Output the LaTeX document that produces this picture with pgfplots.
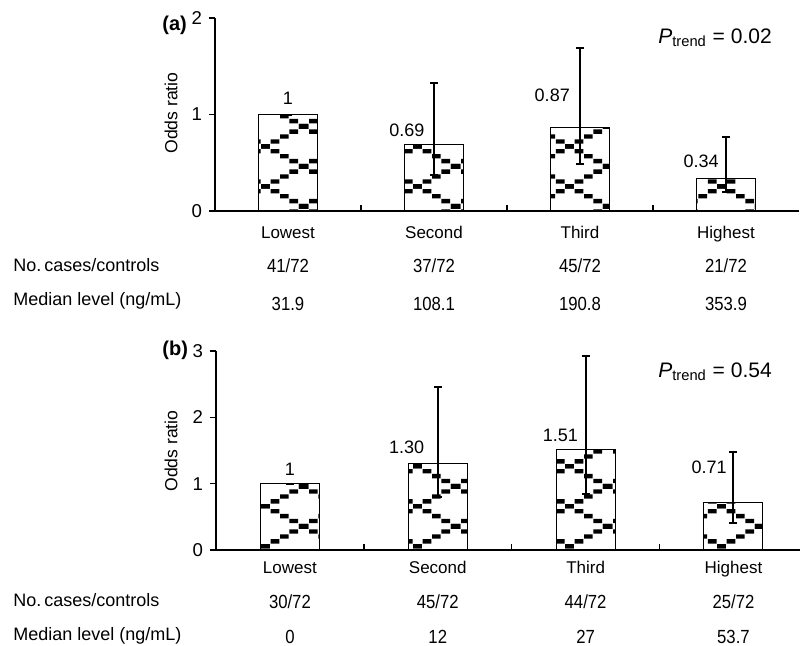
\documentclass[border=0pt]{standalone}
\usepackage{fontspec}
\setmainfont{Liberation Sans}
\newfontfamily\numfont[FakeStretch=0.88]{Liberation Sans}
\usepackage{pgfplots}
\pgfplotsset{compat=1.18}
\usetikzlibrary{patterns}

\pgfdeclarepatternformonly{diamonddash}{\pgfqpoint{0pt}{0pt}}{\pgfqpoint{38pt}{20pt}}{\pgfqpoint{38pt}{20pt}}{%
  \foreach \k in {0,...,7}{%
    \foreach \dx in {-38,0,38}{%
      \foreach \dy in {-20,0,20}{%
        \pgfpathrectangle{\pgfpoint{\k*4.75pt+\dx*1pt-2.2pt}{\k*2.5pt+\dy*1pt-1.1pt}}{\pgfpoint{4.4pt}{2.2pt}}%
        \pgfusepath{fill}%
        \pgfpathrectangle{\pgfpoint{\k*4.75pt+\dx*1pt-2.2pt}{20pt-\k*2.5pt+\dy*1pt-1.1pt}}{\pgfpoint{4.4pt}{2.2pt}}%
        \pgfusepath{fill}%
      }}}%
}

\pgfplotsset{
  myaxis/.style={
    scale only axis, width=292pt, xmin=-0.5, xmax=3.5, ymin=0,
    axis x line=bottom, axis y line=left,
    axis line style={-, line width=0.7pt, black},
    every outer x axis line/.append style={-},
    every outer y axis line/.append style={-},
    xtick=\empty, tick align=outside, major tick length=3pt,
    tick style={line width=0.7pt, black},
    ticklabel style={font=\fontsize{9.3}{10}\selectfont},
    /pgf/number format/assume math mode=true,
    clip=false,
  },
  mybar/.style={ybar, bar width=29.5pt, draw=black, line width=0.5pt,
    pattern=diamonddash, pattern color=black},
  myerr/.style={mark=none, draw=none, line width=1pt,
    error bars/.cd, y dir=both, y explicit,
    error bar style={draw=black, line width=1pt},
    error mark options={rotate=90, draw=black, line width=1pt, mark size=2pt}},
}
\tikzset{
  catlab/.style={anchor=base, font=\fontsize{8.5}{10}\selectfont},
  numlab/.style={anchor=base, font=\numfont\fontsize{9.5}{10}\selectfont},
  vallab/.style={anchor=center, font=\fontsize{9}{10}\selectfont},
}

\begin{document}
\begin{tikzpicture}
% ---------------- panel (a) ----------------
\begin{axis}[myaxis, at={(107.5pt,217pt)}, anchor=south west, height=96.5pt,
  ymax=2, ytick={0,1,2}]
\addplot[mybar] coordinates {(0,1) (1,0.69) (2,0.87) (3,0.34)};
\addplot[myerr] coordinates {
  (0,1) += (0,0) -= (0,0)
  (1,0.69) += (0,0.64) -= (0,0.32)
  (2,0.87) += (0,0.82) -= (0,0.38)
  (3,0.34) += (0,0.43) -= (0,0.14)
};
\addplot[ycomb, black, line width=0.7pt, mark=none] coordinates {(0.5,0.062) (1.5,0.062) (2.5,0.062)};
\node[vallab] at (axis cs:0,1.17) {1};
\node[vallab] at (axis cs:0.815,0.84) {0.69};
\node[vallab] at (axis cs:1.81,1.20) {0.87};
\node[vallab] at (axis cs:2.83,0.52) {0.34};
\node[catlab, yshift=-13.5pt] at (axis cs:0,0) {Lowest};
\node[catlab, yshift=-13.5pt] at (axis cs:1,0) {Second};
\node[catlab, yshift=-13.5pt] at (axis cs:2,0) {Third};
\node[catlab, yshift=-13.5pt] at (axis cs:3,0) {Highest};
\node[numlab, yshift=-30.5pt] at (axis cs:0,0) {41/72};
\node[numlab, yshift=-30.5pt] at (axis cs:1,0) {37/72};
\node[numlab, yshift=-30.5pt] at (axis cs:2,0) {45/72};
\node[numlab, yshift=-30.5pt] at (axis cs:3,0) {21/72};
\node[numlab, yshift=-49.5pt] at (axis cs:0,0) {31.9};
\node[numlab, yshift=-49.5pt] at (axis cs:1,0) {108.1};
\node[numlab, yshift=-49.5pt] at (axis cs:2,0) {190.8};
\node[numlab, yshift=-49.5pt] at (axis cs:3,0) {353.9};
\end{axis}
% ---------------- panel (b) ----------------
\begin{axis}[myaxis, at={(108pt,47.5pt)}, anchor=south west, height=99.5pt,
  xmax=3.45, ymax=3, ytick={0,1,2,3}]
\addplot[mybar] coordinates {(0,1) (1,1.30) (2,1.51) (3,0.71)};
\addplot[myerr] coordinates {
  (0,1) += (0,0) -= (0,0)
  (1,1.30) += (0,1.16) -= (0,0.50)
  (2,1.51) += (0,1.42) -= (0,0.66)
  (3,0.71) += (0,0.77) -= (0,0.31)
};
\addplot[ycomb, black, line width=0.7pt, mark=none] coordinates {(0.5,0.09) (1.5,0.09) (2.5,0.09)};
\node[vallab] at (axis cs:0,1.21) {1};
\node[vallab] at (axis cs:0.79,1.55) {1.30};
\node[vallab] at (axis cs:1.83,1.73) {1.51};
\node[vallab] at (axis cs:2.835,1.25) {0.71};
\node[catlab, yshift=-11.5pt] at (axis cs:0,0) {Lowest};
\node[catlab, yshift=-11.5pt] at (axis cs:1,0) {Second};
\node[catlab, yshift=-11.5pt] at (axis cs:2,0) {Third};
\node[catlab, yshift=-11.5pt] at (axis cs:3,0) {Highest};
\node[numlab, yshift=-29pt] at (axis cs:0,0) {30/72};
\node[numlab, yshift=-29pt] at (axis cs:1,0) {45/72};
\node[numlab, yshift=-29pt] at (axis cs:2,0) {44/72};
\node[numlab, yshift=-29pt] at (axis cs:3,0) {25/72};
\node[numlab, yshift=-46.5pt] at (axis cs:0,0) {0};
\node[numlab, yshift=-46.5pt] at (axis cs:1,0) {12};
\node[numlab, yshift=-46.5pt] at (axis cs:2,0) {27};
\node[numlab, yshift=-46.5pt] at (axis cs:3,0) {53.7};
\end{axis}
% ---------------- free text ----------------
\node[anchor=base west, font=\bfseries\fontsize{10}{12}\selectfont, inner sep=0pt] at (81pt,307.5pt) {(a)};
\node[anchor=base west, font=\bfseries\fontsize{10}{12}\selectfont, inner sep=0pt] at (81pt,145pt) {(b)};
\node[rotate=90, font=\fontsize{8.8}{10}\selectfont] at (85.5pt,266pt) {Odds ratio};
\node[rotate=90, font=\fontsize{8.8}{10}\selectfont] at (85.5pt,97pt) {Odds ratio};
\node[anchor=base west, font=\fontsize{10.5}{12}\selectfont, inner sep=0pt] at (329pt,301pt) {{\itshape P}\textsubscript{trend} = 0.02};
\node[anchor=base west, font=\fontsize{10.5}{12}\selectfont, inner sep=0pt] at (329pt,134pt) {{\itshape P}\textsubscript{trend} = 0.54};
\node[anchor=base west, font=\fontsize{9}{10}\selectfont, inner sep=0pt] at (6.5pt,187pt) {No.\,cases/controls};
\node[anchor=base west, font=\fontsize{9}{10}\selectfont, inner sep=0pt] at (6.5pt,170pt) {Median level (ng/mL)};
\node[anchor=base west, font=\fontsize{9}{10}\selectfont, inner sep=0pt] at (6.5pt,19.5pt) {No.\,cases/controls};
\node[anchor=base west, font=\fontsize{9}{10}\selectfont, inner sep=0pt] at (6.5pt,2.5pt) {Median level (ng/mL)};
\pgfresetboundingbox
\path (0,0) rectangle (400pt,322.5pt);
\end{tikzpicture}
\end{document}
